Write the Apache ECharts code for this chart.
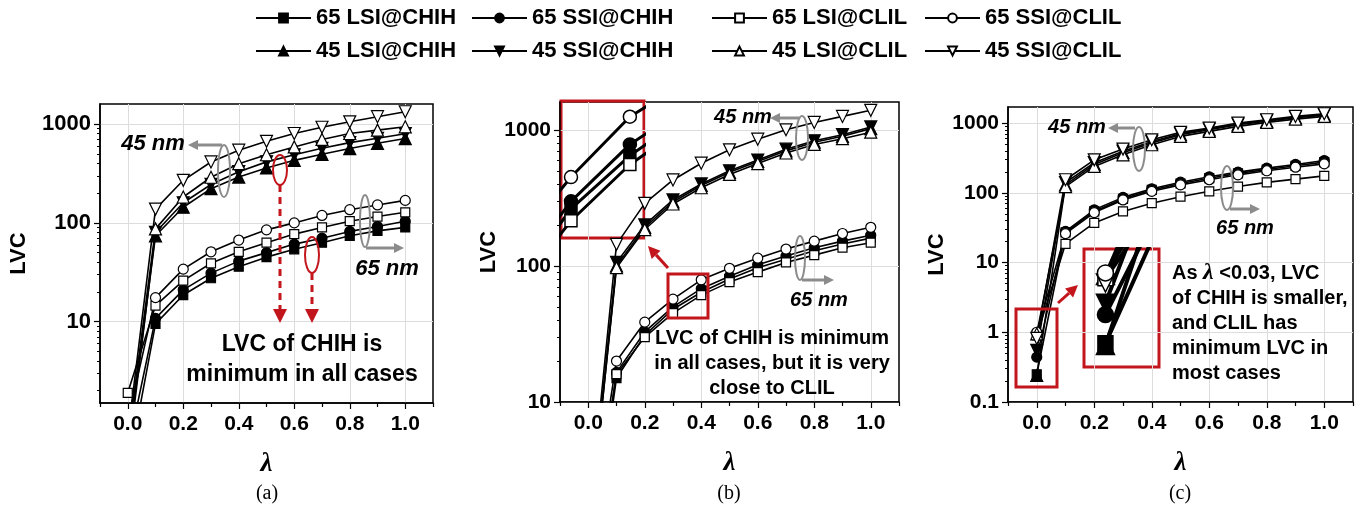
<!DOCTYPE html>
<html><head><meta charset="utf-8">
<script src="https://cdn.jsdelivr.net/npm/echarts@6/dist/echarts.min.js"></script>
<style>html,body{margin:0;padding:0;background:#fff}#c{width:1369px;height:508px}</style>
</head><body><div id="c"></div>
<script>
// ---------------- data ----------------
const lambdaValues = [0, 0.1, 0.2, 0.3, 0.4, 0.5, 0.6, 0.7, 0.8, 0.9, 1.0];
const seriesNames = ['65 LSI@CHIH', '65 SSI@CHIH', '65 LSI@CLIL', '65 SSI@CLIL',
                     '45 LSI@CHIH', '45 SSI@CHIH', '45 LSI@CLIL', '45 SSI@CLIL'];
const xTickLabels = [0, 0.2, 0.4, 0.6, 0.8, 1.0];
const xMinorTicks = [-0.1, 0.1, 0.3, 0.5, 0.7, 0.9, 1.1];
const yTickLabels = [0.1, 1, 10, 100, 1000];
const yMinorTicks = [0.2,0.3,0.4,0.5,0.6,0.7,0.8,0.9, 2,3,4,5,6,7,8,9, 20,30,40,50,60,70,80,90, 200,300,400,500,600,700,800,900];

// panel (a)
const a65LsiChih = [0.3, 9.5, 18.6, 27.5, 36, 45, 54, 63, 74, 83, 90];
const a65SsiChih = [0.5, 10.8, 21, 31, 41, 50, 61, 70, 82, 92, 104];
const a65LsiClil = [1.9, 14.5, 26, 39, 51, 63, 77, 90, 104, 116, 128];
const a65SsiClil = [1.0, 17.5, 34, 51, 67, 85, 100, 119, 136, 152, 169];
const a45LsiChih = [0.5, 74, 144, 222, 291, 360, 430, 495, 566, 640, 715];
const a45SsiChih = [0.4, 80, 160, 245, 330, 415, 490, 570, 650, 720, 800];
const a45LsiClil = [0.6, 87, 183, 290, 398, 490, 588, 700, 804, 870, 940];
const a45SsiClil = [0.7, 138, 270, 414, 545, 670, 804, 930, 1056, 1190, 1335];
// panel (b)
const b65LsiChih = [0.5, 15, 31, 48, 64, 80, 97, 112, 129, 145, 160];
const b65SsiChih = [0.6, 16.5, 32.7, 50, 68, 84, 102, 118, 136, 152, 168];
const b65LsiClil = [0.7, 16, 30, 45, 61, 76, 90, 106, 120, 136, 148];
const b65SsiClil = [0.9, 20, 38.6, 57, 79, 96, 114, 133, 152, 173, 192];
const b45LsiChih = [1.0, 100, 192, 295, 390, 487, 585, 700, 810, 895, 1020];
const b45SsiChih = [1.1, 106, 200, 305, 400, 500, 600, 720, 830, 920, 1050];
const b45LsiClil = [1.0, 97, 185, 285, 375, 470, 565, 675, 780, 860, 960];
const b45SsiClil = [1.2, 144, 288, 428, 568, 713, 853, 1000, 1132, 1254, 1390];
// panel (c)
const c65LsiChih = [0.25, 27, 54, 82, 110, 136, 162, 190, 216, 244, 275];
const c65SsiChih = [0.44, 28, 57, 86, 114, 142, 170, 198, 226, 255, 290];
const c65LsiClil = [0.9, 18.5, 37, 54, 71, 88, 105, 123, 141, 157, 175];
const c65SsiClil = [1.0, 26, 52, 79, 105, 130, 154, 181, 207, 233, 260];
const c45LsiChih = [0.24, 130, 255, 375, 520, 680, 800, 945, 1060, 1190, 1300];
const c45SsiChih = [0.55, 140, 270, 395, 545, 705, 820, 970, 1090, 1215, 1330];
const c45LsiClil = [0.95, 123, 239, 351, 489, 644, 760, 896, 1022, 1140, 1246];
const c45SsiClil = [0.82, 154, 297, 424, 576, 735, 847, 1000, 1116, 1246, 1360];

const panelA = [a65LsiChih, a65SsiChih, a65LsiClil, a65SsiClil, a45LsiChih, a45SsiChih, a45LsiClil, a45SsiClil];
const panelB = [b65LsiChih, b65SsiChih, b65LsiClil, b65SsiClil, b45LsiChih, b45SsiChih, b45LsiClil, b45SsiClil];
const panelC = [c65LsiChih, c65SsiChih, c65LsiClil, c65SsiClil, c45LsiChih, c45SsiChih, c45LsiClil, c45SsiClil];

// ---------------- styling ----------------
const FONT = '"Liberation Sans", Arial, sans-serif';
const SERIF = '"Liberation Serif", "Times New Roman", serif';
const RED = '#c3161c';
const GRAY = '#8c8c8c';
const markerStyle = {
  '65 LSI@CHIH': {symbol: 'rect', fill: '#000', size: 9, rotate: 0},
  '65 SSI@CHIH': {symbol: 'circle', fill: '#000', size: 10, rotate: 0},
  '65 LSI@CLIL': {symbol: 'rect', fill: '#fff', size: 9, rotate: 0},
  '65 SSI@CLIL': {symbol: 'circle', fill: '#fff', size: 10, rotate: 0},
  '45 LSI@CHIH': {symbol: 'triangle', fill: '#000', size: 12, rotate: 0},
  '45 SSI@CHIH': {symbol: 'triangle', fill: '#000', size: 12, rotate: 180},
  '45 LSI@CLIL': {symbol: 'triangle', fill: '#fff', size: 12, rotate: 0},
  '45 SSI@CLIL': {symbol: 'triangle', fill: '#fff', size: 12, rotate: 180}
};

const panels = [
  {grid: {left: 100, top: 104, width: 333, height: 299}, ymin: 1.5, ymax: 1600, data: panelA, nameGap: 70, yFont: 22},
  {grid: {left: 560, top: 102, width: 339, height: 300}, ymin: 10, ymax: 1600, data: panelB, nameGap: 57, yFont: 21},
  {grid: {left: 1008, top: 107, width: 345, height: 295}, ymin: 0.1, ymax: 1700, data: panelC, nameGap: 59, yFont: 21}
];

const grids = [], xAxes = [], yAxes = [], series = [];
panels.forEach((p, i) => {
  grids.push(Object.assign({show: true, borderColor: '#000', borderWidth: 1.5, backgroundColor: 'transparent', containLabel: false}, p.grid));
  xAxes.push({
    type: 'value', gridIndex: i, min: -0.1, max: 1.1, position: 'bottom',
    name: 'λ', nameLocation: 'middle', nameGap: 48,
    nameTextStyle: {fontFamily: SERIF, fontStyle: 'italic', fontWeight: 'bold', fontSize: 27, color: '#000'},
    axisLine: {show: true, onZero: false, lineStyle: {color: '#000', width: 1.5}},
    axisTick: {show: true, customValues: xTickLabels, length: 6, lineStyle: {color: '#000', width: 1.2}},
    axisLabel: {show: true, customValues: xTickLabels, formatter: v => Number(v).toFixed(1), margin: 11,
                fontFamily: FONT, fontWeight: 'bold', fontSize: 21, color: '#000'},
    splitLine: {show: true, lineStyle: {color: '#dcdcdc', width: 1}}
  });
  xAxes.push({
    type: 'value', gridIndex: i, min: -0.1, max: 1.1, position: 'bottom',
    axisLine: {show: false, onZero: false},
    axisTick: {show: true, customValues: xMinorTicks, length: 4, lineStyle: {color: '#000', width: 1.2}},
    axisLabel: {show: false}, splitLine: {show: false}
  });
  const labels = yTickLabels.filter(v => v >= p.ymin && v <= p.ymax);
  yAxes.push({
    type: 'log', logBase: 10, gridIndex: i, min: p.ymin, max: p.ymax, position: 'left',
    name: 'LVC', nameLocation: 'middle', nameGap: p.nameGap,
    nameTextStyle: {fontFamily: FONT, fontWeight: 'bold', fontSize: 22, color: '#000'},
    axisLine: {show: true, onZero: false, lineStyle: {color: '#000', width: 1.5}},
    axisTick: {show: true, customValues: labels, length: 6, lineStyle: {color: '#000', width: 1.2}},
    axisLabel: {show: true, customValues: labels, formatter: v => String(Number(v)), margin: 9,
                fontFamily: FONT, fontWeight: 'bold', fontSize: p.yFont, color: '#000'},
    splitLine: {show: true, lineStyle: {color: '#dcdcdc', width: 1}}
  });
  yAxes.push({
    type: 'log', logBase: 10, gridIndex: i, min: p.ymin, max: p.ymax, position: 'left',
    axisLine: {show: false, onZero: false},
    axisTick: {show: true, customValues: yMinorTicks.filter(v => v > p.ymin && v < p.ymax), length: 3, lineStyle: {color: '#000', width: 1}},
    axisLabel: {show: false}, splitLine: {show: false}
  });
  seriesNames.forEach((name, k) => {
    const m = markerStyle[name];
    series.push({
      type: 'line', name: name, xAxisIndex: 2 * i, yAxisIndex: 2 * i,
      data: lambdaValues.map((x, j) => [x, p.data[k][j]]),
      symbol: m.symbol, symbolSize: m.size, symbolRotate: m.rotate, showSymbol: true,
      itemStyle: {color: m.fill, borderColor: '#000', borderWidth: 1.2},
      lineStyle: {color: '#000', width: 1.6},
      clip: true, animation: false, z: 3
    });
  });
});

// ---------------- insets (zoomed views) ----------------
grids.push({show: true, left: 561, top: 101, width: 83, height: 137, borderColor: RED, borderWidth: 3, backgroundColor: 'transparent'});
grids.push({show: true, left: 1084, top: 249, width: 75, height: 118, borderColor: RED, borderWidth: 3, backgroundColor: 'transparent'});
xAxes.push({type: 'value', gridIndex: 3, min: 0.283, max: 0.424, show: false, axisLine: {onZero: false}});
yAxes.push({type: 'log', gridIndex: 3, min: 41, max: 86, show: false, axisLine: {onZero: false}});
xAxes.push({type: 'value', gridIndex: 4, min: -0.02, max: 0.05, show: false, axisLine: {onZero: false}});
yAxes.push({type: 'log', gridIndex: 4, min: 0.157, max: 1.6, show: false, axisLine: {onZero: false}});
[0, 1, 2, 3].forEach(k => {
  const name = seriesNames[k], m = markerStyle[name];
  series.push({
    type: 'line', name: name, xAxisIndex: 6, yAxisIndex: 6,
    data: lambdaValues.map((x, j) => [x, panelB[k][j]]),
    symbol: m.symbol, symbolSize: m.size + 3, symbolRotate: m.rotate,
    itemStyle: {color: m.fill, borderColor: '#000', borderWidth: 1.5},
    lineStyle: {color: '#000', width: 3}, clip: true, animation: false, z: 4
  });
});
[4, 6, 0, 1, 5, 2, 7, 3].forEach(k => {
  const name = seriesNames[k], m = markerStyle[name];
  series.push({
    type: 'line', name: name, xAxisIndex: 7, yAxisIndex: 7,
    data: lambdaValues.map((x, j) => [x, panelC[k][j]]),
    symbol: m.symbol, symbolSize: m.size + 6, symbolRotate: m.rotate,
    itemStyle: {color: m.fill, borderColor: '#000', borderWidth: 1.5},
    lineStyle: {color: '#000', width: 4}, clip: true, animation: false, z: 4
  });
});

// ---------------- legend ----------------
const legendCols = [250, 466, 706, 919];
const legendRows = [2, 35];
const legends = seriesNames.map((name, k) => ({
  data: [name], left: legendCols[k % 4], top: legendRows[Math.floor(k / 4)],
  orient: 'horizontal', itemWidth: 55, itemHeight: 11, selectedMode: false,
  textStyle: {fontFamily: FONT, fontWeight: 'bold', fontSize: 22, color: '#000'}
}));

// ---------------- annotations ----------------
function arrow(x1, y1, x2, y2, color, width, head, dashed) {
  const dx = x2 - x1, dy = y2 - y1, L = Math.hypot(dx, dy), ux = dx / L, uy = dy / L;
  const bx = x2 - ux * head, by = y2 - uy * head, hw = head * 0.5;
  return [
    {type: 'line', z: 50, shape: {x1: x1, y1: y1, x2: bx, y2: by},
     style: {stroke: color, lineWidth: width, lineDash: dashed ? [7, 5] : null}},
    {type: 'polygon', z: 50, shape: {points: [[x2, y2], [bx - uy * hw, by + ux * hw], [bx + uy * hw, by - ux * hw]]},
     style: {fill: color}}
  ];
}
function ellipse(cx, cy, rx, ry, color) {
  return {type: 'ellipse', z: 50, shape: {cx: cx, cy: cy, rx: rx, ry: ry}, style: {fill: 'none', stroke: color, lineWidth: 2}};
}
function text(str, x, y, font, align) {
  return {type: 'text', z: 60, style: {text: str, x: x, y: y, font: font, fill: '#000', textAlign: align || 'center', textVerticalAlign: 'middle'}};
}
function rect(x, y, w, h) {
  return {type: 'rect', z: 55, shape: {x: x, y: y, width: w, height: h}, style: {fill: 'none', stroke: RED, lineWidth: 3}};
}
const NM_A = 'italic bold 22px ' + FONT;
const NM = 'italic bold 20px ' + FONT;
const NOTE_A = 'bold 23px ' + FONT;
const NOTE = 'bold 20px ' + FONT;
const graphics = [].concat(
  // panel (a)
  [text('45 nm', 153, 144, NM_A), ellipse(224, 171, 6, 26, GRAY)], arrow(222, 145, 188, 145, GRAY, 3, 10),
  [text('65 nm', 387, 269, NM_A), ellipse(365, 221, 5, 26, GRAY)], arrow(366, 248, 404, 248, GRAY, 3, 10),
  [ellipse(280, 170, 7, 15, RED)], arrow(280, 185, 280, 323, RED, 3, 14, true),
  [ellipse(312, 255, 7, 18, RED)], arrow(312, 273, 312, 323, RED, 3, 14, true),
  [text('LVC of CHIH is', 302, 345, NOTE_A), text('minimum in all cases', 302, 375, NOTE_A)],
  // panel (b)
  [text('45 nm', 743, 117, NM), ellipse(802, 138, 6, 22, GRAY)], arrow(799, 118, 770, 118, GRAY, 3, 10),
  [text('65 nm', 819, 300, NM), ellipse(800, 258, 5, 22, GRAY)], arrow(802, 280, 834, 280, GRAY, 3, 10),
  [rect(668, 274, 40, 44)], arrow(668, 268, 648, 246, RED, 3, 12),
  [text('LVC of CHIH is minimum', 772, 338, NOTE), text('in all cases, but it is very', 772, 363, NOTE), text('close to CLIL', 772, 388, NOTE)],
  // panel (c)
  [text('45 nm', 1077, 127, NM), ellipse(1139, 149, 6, 22, GRAY)], arrow(1135, 128, 1108, 128, GRAY, 3, 10),
  [text('65 nm', 1245, 228, NM), ellipse(1227, 188, 6, 22, GRAY)], arrow(1230, 209, 1260, 209, GRAY, 3, 10),
  [rect(1016, 309, 41, 78)], arrow(1058, 303, 1078, 285, RED, 3, 12),
  [{type: 'text', z: 60, style: {text: 'As {l|λ} <0.03, LVC', x: 1172, y: 273, font: NOTE, fill: '#000', textAlign: 'left', textVerticalAlign: 'middle',
     rich: {l: {fontFamily: SERIF, fontStyle: 'italic', fontWeight: 'bold', fontSize: 24, fill: '#000'}}}},
   text('of CHIH is smaller,', 1172, 298, NOTE, 'left'), text('and CLIL has', 1172, 323, NOTE, 'left'),
   text('minimum LVC in', 1172, 348, NOTE, 'left'), text('most cases', 1172, 373, NOTE, 'left')],
  // captions
  [text('(a)', 267, 494, '20px ' + SERIF), text('(b)', 729, 494, '20px ' + SERIF), text('(c)', 1180, 494, '20px ' + SERIF)]
);

const chart = echarts.init(document.getElementById('c'), null, {renderer: 'canvas'});
chart.setOption({
  animation: false,
  backgroundColor: '#fff',
  legend: legends,
  grid: grids, xAxis: xAxes, yAxis: yAxes, series: series,
  graphic: {elements: graphics}
});
</script></body></html>
